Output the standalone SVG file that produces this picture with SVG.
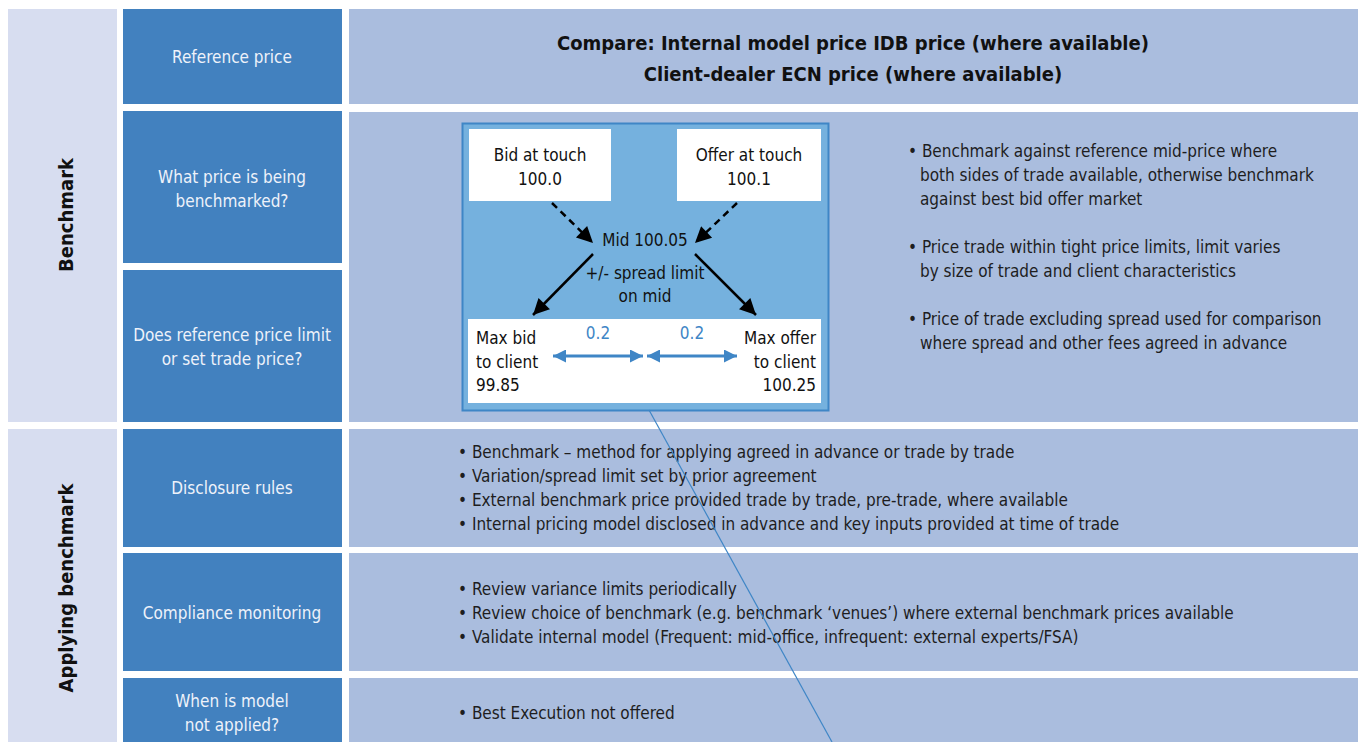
<svg xmlns="http://www.w3.org/2000/svg" width="1362" height="742" viewBox="0 0 1362 742">
<defs>
<style>
text{font-family:"Liberation Sans Narrow","DejaVu Sans Condensed","Liberation Sans",sans-serif;}
.side{fill:#d7ddf0;}
.q{fill:#4281bf;}
.a{fill:#aabdde;}
.qt{fill:#eef2fa;font-size:17px;text-anchor:middle;}
.vt{fill:#111;font-size:20px;font-weight:bold;text-anchor:middle;}
.hd{fill:#111;font-size:20px;font-weight:bold;text-anchor:middle;}
.bt{fill:#1e1e1e;font-size:17px;}
.dt{fill:#111;font-size:17px;}
.blue{fill:#3f86c6;font-size:17px;text-anchor:middle;}
</style>
<marker id="ah" viewBox="0 0 10 10" refX="10" refY="5" markerUnits="userSpaceOnUse" markerWidth="19" markerHeight="16" orient="auto"><path d="M0,0 L10,5 L0,10 z" fill="#000"/></marker>
<marker id="bh" viewBox="0 0 10 10" refX="10" refY="5" markerUnits="userSpaceOnUse" markerWidth="19" markerHeight="13" orient="auto-start-reverse"><path d="M0,0 L10,5 L0,10 z" fill="#3f86c6"/></marker>
</defs>
<rect width="1362" height="742" fill="#fff"/>

<g id="sec-benchmark"><rect class="side" x="8" y="9" width="109" height="413"/><text class="vt" transform="translate(73,215) rotate(-90)">Benchmark</text></g>
<g id="sec-applying"><rect class="side" x="8" y="429" width="109" height="313"/><text class="vt" transform="translate(73,588) rotate(-90)">Applying benchmark</text></g>

<g id="q-reference"><rect class="q" x="123" y="9" width="219" height="95"/><text class="qt" x="232" y="63">Reference price</text></g>
<g id="q-what"><rect class="q" x="123" y="111" width="219" height="152"/><text class="qt" x="232" y="183">What price is being</text><text class="qt" x="232" y="207">benchmarked?</text></g>
<g id="q-does"><rect class="q" x="123" y="270" width="219" height="152"/><text class="qt" x="232" y="341">Does reference price limit</text><text class="qt" x="232" y="365">or set trade price?</text></g>
<g id="q-disclosure"><rect class="q" x="123" y="429" width="219" height="118"/><text class="qt" x="232" y="494">Disclosure rules</text></g>
<g id="q-compliance"><rect class="q" x="123" y="553" width="219" height="118"/><text class="qt" x="232" y="619">Compliance monitoring</text></g>
<g id="q-when"><rect class="q" x="123" y="678" width="219" height="64"/><text class="qt" x="232" y="707">When is model</text><text class="qt" x="232" y="731">not applied?</text></g>

<g id="a-reference"><rect class="a" x="349" y="9" width="1009" height="95"/><text class="hd" x="853" y="50">Compare: Internal model price IDB price (where available)</text><text class="hd" x="853" y="81">Client-dealer ECN price (where available)</text></g>

<g id="a-benchmark"><rect class="a" x="349" y="112" width="1009" height="310"/>
<text class="bt" x="908" y="157">• Benchmark against reference mid-price where</text>
<text class="bt" x="920" y="181">both sides of trade available, otherwise benchmark</text>
<text class="bt" x="920" y="205">against best bid offer market</text>
<text class="bt" x="908" y="253">• Price trade within tight price limits, limit varies</text>
<text class="bt" x="920" y="277">by size of trade and client characteristics</text>
<text class="bt" x="908" y="325">• Price of trade excluding spread used for comparison</text>
<text class="bt" x="920" y="349">where spread and other fees agreed in advance</text>
</g>

<g id="a-disclosure"><rect class="a" x="349" y="429" width="1009" height="118"/>
<text class="bt" x="458" y="458">• Benchmark – method for applying agreed in advance or trade by trade</text>
<text class="bt" x="458" y="482">• Variation/spread limit set by prior agreement</text>
<text class="bt" x="458" y="506">• External benchmark price provided trade by trade, pre-trade, where available</text>
<text class="bt" x="458" y="530">• Internal pricing model disclosed in advance and key inputs provided at time of trade</text>
</g>
<g id="a-compliance"><rect class="a" x="349" y="553" width="1009" height="118"/>
<text class="bt" x="458" y="595">• Review variance limits periodically</text>
<text class="bt" x="458" y="619">• Review choice of benchmark (e.g. benchmark ‘venues’) where external benchmark prices available</text>
<text class="bt" x="458" y="643">• Validate internal model (Frequent: mid-office, infrequent: external experts/FSA)</text>
</g>
<g id="a-when"><rect class="a" x="349" y="678" width="1009" height="64"/>
<text class="bt" x="458" y="719">• Best Execution not offered</text>
</g>

<g id="example">
<rect x="462.5" y="123.5" width="366" height="287" fill="#75b1de" stroke="#3f86c6" stroke-width="2"/>
<g id="bid"><rect x="469" y="129" width="142" height="72" fill="#fff"/><text class="dt" x="540" y="161" text-anchor="middle">Bid at touch</text><text class="dt" x="540" y="185" text-anchor="middle">100.0</text></g>
<g id="offer"><rect x="677" y="129" width="144" height="72" fill="#fff"/><text class="dt" x="749" y="161" text-anchor="middle">Offer at touch</text><text class="dt" x="749" y="185" text-anchor="middle">100.1</text></g>
<g id="mid"><text class="dt" x="645" y="246" text-anchor="middle">Mid 100.05</text><text class="dt" x="645" y="279" text-anchor="middle">+/- spread limit</text><text class="dt" x="645" y="302" text-anchor="middle">on mid</text></g>
<g id="client"><rect x="468" y="319" width="353" height="84" fill="#fff"/>
<text class="dt" x="476" y="344">Max bid</text><text class="dt" x="476" y="368">to client</text><text class="dt" x="476" y="391">99.85</text>
<text class="dt" x="816" y="344" text-anchor="end">Max offer</text><text class="dt" x="816" y="368" text-anchor="end">to client</text><text class="dt" x="816" y="391" text-anchor="end">100.25</text>
<text class="blue" x="598" y="339">0.2</text><text class="blue" x="692" y="339">0.2</text>
</g>
</g>

<g id="connectors" fill="none">
<path d="M552,203 L593,243" stroke="#000" stroke-width="2.5" stroke-dasharray="7,5" marker-end="url(#ah)"/>
<path d="M737,203 L695,243" stroke="#000" stroke-width="2.5" stroke-dasharray="7,5" marker-end="url(#ah)"/>
<path d="M593,254 L533,315" stroke="#000" stroke-width="2.5" marker-end="url(#ah)"/>
<path d="M695,254 L756,315" stroke="#000" stroke-width="2.5" marker-end="url(#ah)"/>
<path d="M553,356 L643,356" stroke="#3f86c6" stroke-width="3" marker-start="url(#bh)" marker-end="url(#bh)"/>
<path d="M647,356 L737,356" stroke="#3f86c6" stroke-width="3" marker-start="url(#bh)" marker-end="url(#bh)"/>
<path d="M649,410 L832,742" stroke="#3f86c6" stroke-width="1.2"/>
</g>
</svg>
